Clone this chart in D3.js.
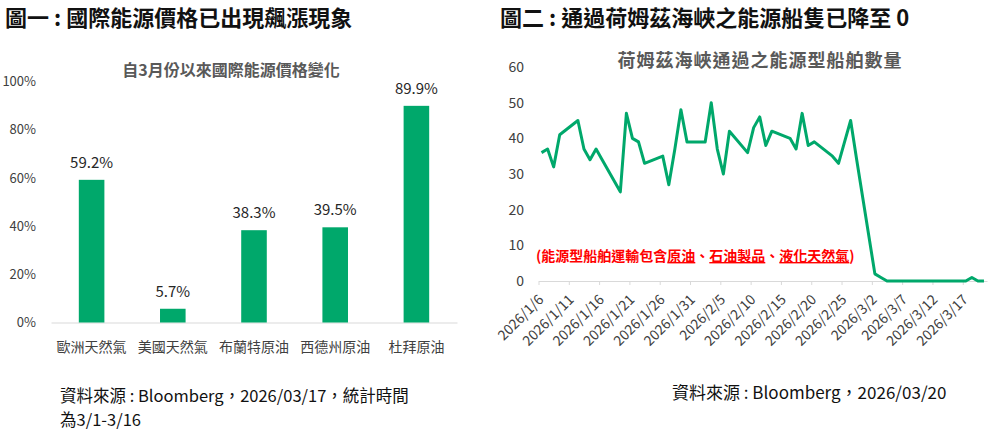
<!DOCTYPE html>
<html>
<head>
<meta charset="utf-8">
<script src="https://d3js.org/d3.v7.min.js"></script>
<style>
  body { margin: 0; background: #fff; }
  svg { display: block; font-family: "Noto Sans CJK TC", "Noto Sans", sans-serif; }
</style>
</head>
<body>
<script>
// chart 1 data: price change since March
var barCategories = ['歐洲天然氣', '美國天然氣', '布蘭特原油', '西德州原油', '杜拜原油'];
var barValues = [59.2, 5.7, 38.3, 39.5, 89.9];
var barTicks = [0, 20, 40, 60, 80, 100];

// chart 2 data: energy ships through Hormuz (weekdays)
var shipDates = [
  '2026-01-06', '2026-01-07', '2026-01-08', '2026-01-09', '2026-01-12', '2026-01-13', '2026-01-14',
  '2026-01-15', '2026-01-16', '2026-01-19', '2026-01-20', '2026-01-21', '2026-01-22', '2026-01-23',
  '2026-01-26', '2026-01-27', '2026-01-28', '2026-01-29', '2026-01-30', '2026-02-02', '2026-02-03',
  '2026-02-04', '2026-02-05', '2026-02-06', '2026-02-09', '2026-02-10', '2026-02-11', '2026-02-12',
  '2026-02-13', '2026-02-16', '2026-02-17', '2026-02-18', '2026-02-19', '2026-02-20', '2026-02-23',
  '2026-02-24', '2026-02-25', '2026-02-26', '2026-02-27', '2026-03-02', '2026-03-03', '2026-03-04',
  '2026-03-05', '2026-03-06', '2026-03-09', '2026-03-10', '2026-03-11', '2026-03-12', '2026-03-13',
  '2026-03-16', '2026-03-17', '2026-03-18', '2026-03-19', '2026-03-20'
];
var shipCounts = [
  36, 37, 32, 41, 45, 37, 34,
  37, 34, 25, 47, 40, 39, 33,
  35, 27, 37, 48, 39, 39, 50,
  37, 30, 42, 36, 43, 46, 38,
  42, 40, 37, 47, 38, 39, 35,
  33, 39, 45, 34, 2, 1, 0,
  0, 0, 0, 0, 0, 0, 0,
  0, 0, 1, 0, 0
];
var shipTicks = [0, 10, 20, 30, 40, 50, 60];

var green = '#00a86b';
var axisGray = '#d9d9d9';
var labelColor = '#404040';
var fontStack = '"Noto Sans CJK TC", "Noto Sans", sans-serif';

var svg = d3.select('body').append('svg')
  .attr('width', 997)
  .attr('height', 432);

// ---------- headings ----------
svg.append('text')
  .attr('x', 5).attr('y', 26)
  .attr('font-size', 22).attr('font-weight', 'bold').attr('fill', '#111')
  .text('圖一 : 國際能源價格已出現飆漲現象');

svg.append('text')
  .attr('x', 500).attr('y', 26)
  .attr('font-size', 22).attr('font-weight', 'bold').attr('fill', '#111')
  .text('圖二 : 通過荷姆茲海峽之能源船隻已降至 0');

// ---------- chart 1: bars ----------
var xBar = d3.scaleBand()
  .domain(barCategories)
  .range([51, 457])
  .paddingInner(0.685)
  .paddingOuter(0.3425);

var yBar = d3.scaleLinear().domain([0, 100]).range([322.5, 81.5]);

svg.append('text')
  .attr('x', 231).attr('y', 76)
  .attr('text-anchor', 'middle')
  .attr('font-size', 16).attr('font-weight', 'bold').attr('fill', '#595959')
  .text('自3月份以來國際能源價格變化');

var yAxisL = svg.append('g')
  .attr('transform', 'translate(44,0)')
  .call(d3.axisLeft(yBar).tickValues(barTicks).tickSize(0).tickPadding(8)
    .tickFormat(function (d) { return d + '%'; }));
yAxisL.select('.domain').remove();
yAxisL.selectAll('text')
  .attr('font-size', 13).attr('fill', labelColor)
  .style('font-family', fontStack);

var xAxisL = svg.append('g')
  .attr('transform', 'translate(0,322.5)')
  .call(d3.axisBottom(xBar).tickSize(0).tickPadding(20));
xAxisL.select('.domain').attr('stroke', axisGray);
xAxisL.selectAll('text')
  .attr('font-size', 14).attr('fill', labelColor)
  .style('font-family', fontStack);

svg.append('g').selectAll('rect')
  .data(barValues)
  .join('rect')
  .attr('x', function (d, i) { return xBar(barCategories[i]); })
  .attr('width', xBar.bandwidth())
  .attr('y', function (d) { return yBar(d); })
  .attr('height', function (d) { return yBar(0) - yBar(d); })
  .attr('fill', green);

svg.append('g').selectAll('text')
  .data(barValues)
  .join('text')
  .attr('x', function (d, i) { return xBar(barCategories[i]) + xBar.bandwidth() / 2; })
  .attr('y', function (d) { return yBar(d) - 12; })
  .attr('text-anchor', 'middle')
  .attr('font-size', 15).attr('fill', '#262626')
  .text(function (d) { return d.toFixed(1) + '%'; });

svg.append('text')
  .attr('x', 60).attr('y', 402)
  .attr('font-size', 16.5).attr('fill', '#111')
  .text('資料來源 : Bloomberg，2026/03/17，統計時間');
svg.append('text')
  .attr('x', 60).attr('y', 426)
  .attr('font-size', 16.5).attr('fill', '#111')
  .text('為3/1-3/16');

// ---------- chart 2: line ----------
var parseDay = d3.utcParse('%Y-%m-%d');
var halfDay = 12 * 3600 * 1000;
var ships = shipDates.map(function (s, i) {
  return { date: parseDay(s), value: shipCounts[i] };
});

var xShip = d3.scaleUtc()
  .domain([parseDay('2026-01-06'), parseDay('2026-03-21')])
  .range([538.5, 987]);
var yShip = d3.scaleLinear().domain([0, 60]).range([281, 67]);

svg.append('text')
  .attr('x', 760).attr('y', 67)
  .attr('text-anchor', 'middle')
  .attr('font-size', 18).attr('font-weight', 'bold').attr('fill', '#595959')
  .attr('letter-spacing', 1)
  .text('荷姆茲海峽通過之能源型船舶數量');

var yAxisR = svg.append('g')
  .attr('transform', 'translate(532,0)')
  .call(d3.axisLeft(yShip).tickValues(shipTicks).tickSize(0).tickPadding(8));
yAxisR.select('.domain').remove();
yAxisR.selectAll('text')
  .attr('font-size', 14).attr('fill', labelColor)
  .style('font-family', fontStack);

var dateTicks = d3.utcDay.range(parseDay('2026-01-06'), parseDay('2026-03-18'), 5);
var xAxisR = svg.append('g')
  .attr('transform', 'translate(0,281)')
  .call(d3.axisBottom(xShip).tickValues(dateTicks).tickSizeInner(4).tickSizeOuter(0)
    .tickFormat(function (d) {
      return d.getUTCFullYear() + '/' + (d.getUTCMonth() + 1) + '/' + d.getUTCDate();
    }));
xAxisR.select('.domain').attr('stroke', axisGray);
xAxisR.selectAll('.tick line').attr('stroke', axisGray);
xAxisR.selectAll('text')
  .attr('font-size', 14).attr('fill', labelColor)
  .style('font-family', fontStack)
  .attr('text-anchor', 'end')
  .attr('x', 0).attr('y', 0).attr('dy', '0.35em')
  .attr('transform', 'translate(2,16) rotate(-45)');

svg.append('path')
  .datum(ships)
  .attr('fill', 'none')
  .attr('stroke', green)
  .attr('stroke-width', 3)
  .attr('stroke-linejoin', 'round')
  .attr('d', d3.line()
    .x(function (d) { return xShip(new Date(+d.date + halfDay)); })
    .y(function (d) { return yShip(d.value); }));

// note in red with underlined cargo types
var note = svg.append('text')
  .attr('x', 536).attr('y', 261)
  .attr('font-size', 14).attr('font-weight', 'bold').attr('fill', '#ff0000');
note.append('tspan').text('(能源型船舶運輸包含');
note.append('tspan').attr('text-decoration', 'underline').text('原油');
note.append('tspan').text('、');
note.append('tspan').attr('text-decoration', 'underline').text('石油製品');
note.append('tspan').text('、');
note.append('tspan').attr('text-decoration', 'underline').text('液化天然氣');
note.append('tspan').text(')');

svg.append('text')
  .attr('x', 672).attr('y', 399)
  .attr('font-size', 17).attr('fill', '#111')
  .text('資料來源 : Bloomberg，2026/03/20');
</script>
</body>
</html>
